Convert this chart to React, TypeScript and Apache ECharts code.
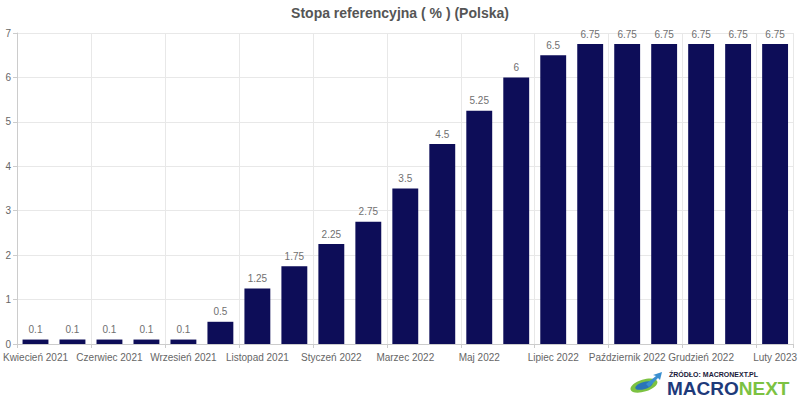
import React, { useEffect, useRef } from "react";
import * as echarts from "echarts";

const categories = [
  "Kwiecień 2021", "Maj 2021", "Czerwiec 2021", "Lipiec 2021", "Wrzesień 2021",
  "Październik 2021", "Listopad 2021", "Grudzień 2021", "Styczeń 2022", "Luty 2022",
  "Marzec 2022", "Kwiecień 2022", "Maj 2022", "Czerwiec 2022", "Lipiec 2022",
  "Wrzesień 2022", "Październik 2022", "Listopad 2022", "Grudzień 2022", "Styczeń 2023",
  "Luty 2023",
];
const rates = [
  0.1, 0.1, 0.1, 0.1, 0.1, 0.5, 1.25, 1.75, 2.25, 2.75, 3.5, 4.5, 5.25, 6, 6.5,
  6.75, 6.75, 6.75, 6.75, 6.75, 6.75,
];
const titleText = "Stopa referencyjna ( % ) (Polska)";
const sourceText = "ŹRÓDŁO: MACRONEXT.PL";

const FONT = "'Liberation Sans', Arial, sans-serif";

export default function App() {
  const ref = useRef<HTMLDivElement>(null);
  useEffect(() => {
    document.body.style.margin = "0";
    if (!ref.current) return;
    const chart = echarts.init(ref.current, undefined, { renderer: "svg" });
    chart.setOption({
      animation: false,
      backgroundColor: "#ffffff",
      textStyle: { fontFamily: FONT },
      title: {
        text: titleText,
        left: "center",
        top: 1,
        textStyle: { fontSize: 14, fontWeight: "bold", color: "#555555", fontFamily: FONT },
      },
      grid: { left: 17, right: 4, top: 33, bottom: 56, containLabel: false },
      xAxis: {
        type: "category",
        data: categories,
        boundaryGap: true,
        axisLine: { show: true, lineStyle: { color: "#cccccc" } },
        axisTick: { show: true, interval: 1, length: 4, lineStyle: { color: "#cccccc" } },
        axisLabel: { interval: 1, color: "#666666", fontSize: 10, margin: 8, fontFamily: FONT },
        splitLine: { show: true, interval: 1, lineStyle: { color: "#e8e8e8" } },
      },
      yAxis: {
        type: "value",
        min: 0,
        max: 7,
        interval: 1,
        axisLine: { show: true, lineStyle: { color: "#cccccc" } },
        axisTick: { show: true, length: 4, lineStyle: { color: "#cccccc" } },
        axisLabel: { color: "#666666", fontSize: 10, margin: 6, fontFamily: FONT },
        splitLine: { show: true, lineStyle: { color: "#e8e8e8" } },
      },
      series: [
        {
          type: "bar",
          data: rates,
          barWidth: "70%",
          itemStyle: { color: "#0d0d58" },
          label: {
            show: true,
            position: "top",
            distance: 5,
            color: "#707070",
            fontSize: 10,
            fontFamily: FONT,
          },
        },
      ],
      graphic: [
        {
          type: "text",
          left: 669,
          top: 370,
          style: { text: sourceText, fill: "#1a1a3a", font: "bold 7px " + FONT, lineHeight: 8 },
        },
        {
          type: "text",
          left: 667,
          top: 379,
          style: {
            text: "{a|MACRO}{b|NEXT}",
            rich: {
              a: { fill: "#1e3a7a", font: "bold 19px " + FONT, lineHeight: 18 },
              b: { fill: "#7cc242", font: "bold 19px " + FONT, lineHeight: 18 },
            },
          },
        },
        {
          type: "ellipse",
          shape: { cx: 644, cy: 386, rx: 14, ry: 6 },
          rotation: 0.3,
          originX: 644,
          originY: 386,
          style: { fill: "#7cc242" },
        },
        {
          type: "ellipse",
          shape: { cx: 644, cy: 386, rx: 9, ry: 3.5 },
          rotation: 0.3,
          originX: 644,
          originY: 386,
          style: { fill: "#2a74b8" },
        },
        {
          type: "polygon",
          shape: { points: [[646, 384], [656, 376], [653, 375], [662, 372], [660, 380], [658, 378], [649, 387]] },
          style: { fill: "#3a8fd0" },
        },
      ],
    });
    return () => chart.dispose();
  }, []);
  return <div ref={ref} style={{ width: 800, height: 400 }} />;
}
